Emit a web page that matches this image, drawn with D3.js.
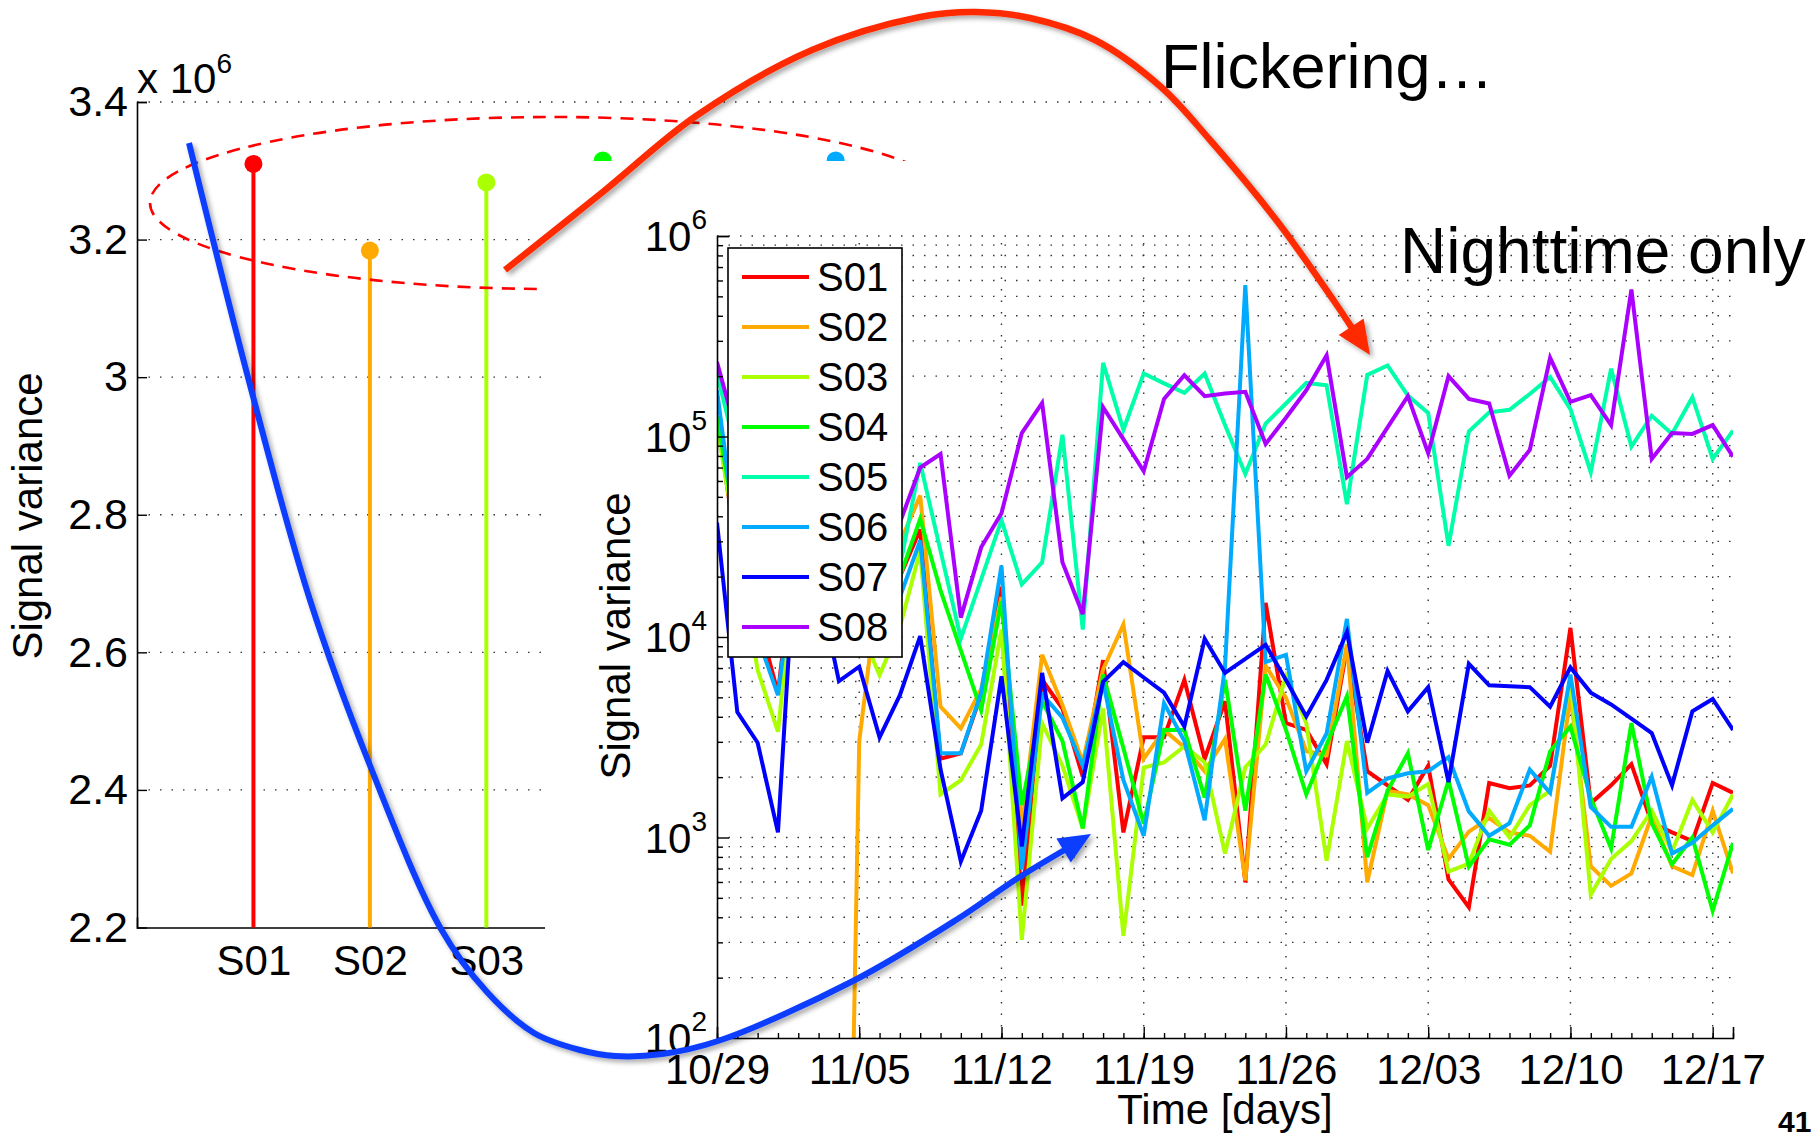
<!DOCTYPE html>
<html>
<head>
<meta charset="utf-8">
<script src="https://cdn.jsdelivr.net/npm/d3@7"></script>
<style>
  body { margin: 0; background: #fff; }
  svg text { font-family: "Liberation Sans", Arial, Helvetica, sans-serif; fill: #000; }
</style>
</head>
<body>
<svg id="slide" width="1820" height="1135"></svg>
<script>
// ---- left plot: total signal variance per sensor (x 10^6) ----
var sensors = ["S01", "S02", "S03", "S04", "S05", "S06", "S07", "S08"];
var totalVar = [3.310, 3.184, 3.283, 3.315, 3.300, 3.315, 3.290, 3.300];
var leftTicks = [2.2, 2.4, 2.6, 2.8, 3.0, 3.2, 3.4];
var colors = ["#ff0000", "#ffaa00", "#aaff00", "#00ff00", "#00ffaa", "#00aaff", "#0000ff", "#aa00ff"];

// ---- right plot: nightly signal variance, one value per night ----
var firstNight = new Date(2012, 9, 29);
var lastNight = new Date(2012, 11, 18);
var nights = d3.timeDay.range(firstNight, d3.timeDay.offset(lastNight, 1));
var weekTicks = ["10/29", "11/05", "11/12", "11/19", "11/26", "12/03", "12/10", "12/17"];
var logTicks = [1e2, 1e3, 1e4, 1e5, 1e6];

var s01 = [126000,25100,12600,5250,39800,15800,12600,14100,11200,20000,34400,2470,2630,5180,17800,457,6110,4400,2010,7660,1060,3160,3160,6110,2470,4780,598,14800,3720,3440,2320,8830,2140,1820,1540,2280,617,449,1870,1760,1820,2280,11100,1480,1820,2320,1180,1060,960,1870,1670];
var s02 = [null,null,null,null,null,null,0.01,3020,20000,29500,50700,4490,3500,5500,15800,1120,8150,4580,2370,6900,11550,2470,3440,2820,2140,3100,611,7190,4970,2690,2570,9200,598,1710,1640,1450,782,1070,1250,1060,1020,849,5180,719,574,662,1280,719,649,1360,662];
var s03 = [112000,28200,6850,3370,31600,15800,12600,11200,6460,11200,26900,1640,1930,2910,10900,309,3720,2280,1110,4400,323,2230,2370,2850,2370,832,2240,2910,6370,3720,766,3030,1110,1640,1600,1850,676,741,1360,1000,1450,1710,6110,518,782,960,1360,849,1540,1060,1640];
var s04 = [126000,31600,15800,10000,31600,20000,15800,20000,15800,20000,38800,17100,8570,4310,15100,1450,4790,3030,1110,6500,2790,1170,3440,3440,1580,6110,1360,6500,3440,1640,2910,5070,798,1710,2630,866,1930,716,980,920,1150,2690,3580,1570,883,3720,1180,735,1000,431,940];
var s05 = [206000,79400,50100,39800,63100,39800,50100,39800,31600,22400,73800,26900,9840,19400,38300,18300,23600,102000,10900,233000,108000,206000,184000,165000,206000,114000,65000,116000,146000,185000,180000,46000,203000,226000,160000,131000,28500,106000,132000,136000,163000,198000,137000,66400,218000,89100,127000,103000,157000,77300,107000];
var s06 = [170000,28200,10000,5130,31600,15800,14100,15800,12600,15800,30300,2630,2630,5280,22700,692,5180,3960,2280,5980,1930,1020,4680,3030,1220,7080,569000,7500,8150,2140,3300,12300,1670,1970,2090,2140,2520,1350,1020,1180,2180,1670,6490,1420,1130,1130,2010,832,940,1150,1390];
var s07 = [37200,4220,2970,1060,50100,18200,6030,7110,3160,5130,10100,2190,759,1360,6370,902,6620,1570,1890,5980,7500,6280,5280,3580,9790,6620,7780,9140,6110,4020,6110,10600,2970,6760,4260,5620,1890,7350,5740,5680,5620,4490,7050,5280,4610,3920,3320,1820,4260,4910,3440];
var s08 = [235000,100000,63100,50100,79400,50100,39800,50100,39800,37200,70000,81800,12500,28000,41400,104000,147000,23600,13000,140000,97000,67100,154000,202000,159000,164000,167000,91800,124000,170000,254000,62700,77300,111000,159000,82600,200000,154000,146000,63800,85700,247000,149000,161000,114000,541000,77300,104000,103000,114000,79400];
var series = [s01, s02, s03, s04, s05, s06, s07, s08];

var svg = d3.select("#slide");
var defs = svg.append("defs");

var shadow = defs.append("filter").attr("id", "shadow").attr("x", "-10%").attr("y", "-10%").attr("width", "130%").attr("height", "130%");
shadow.append("feDropShadow").attr("dx", 3).attr("dy", 3).attr("stdDeviation", 2.5).attr("flood-color", "#000").attr("flood-opacity", 0.35);

var dotted = "1.5,10";

// ================= left plot =================
var lx = d3.scaleLinear().domain([0, 9]).range([137, 1185]);
var ly = d3.scaleLinear().domain([2.2, 3.4]).range([927.5, 102]);
var left = svg.append("g");

left.selectAll(".lgrid").data(leftTicks.slice(1)).enter().append("line")
    .attr("x1", lx(0)).attr("x2", lx(9))
    .attr("y1", function(d) { return ly(d); }).attr("y2", function(d) { return ly(d); })
    .attr("stroke", "#333").attr("stroke-width", 1.4).attr("stroke-dasharray", dotted);

var lyAxis = d3.axisLeft(ly).tickValues(leftTicks).tickSize(-10).tickPadding(9)
    .tickFormat(function(d) { return d === 3 ? "3" : d3.format(".1f")(d); });
var gly = left.append("g").attr("transform", "translate(" + lx(0) + ",0)").call(lyAxis);
gly.selectAll("text").attr("font-size", 43);

var lxAxis = d3.axisBottom(lx).tickValues(d3.range(1, 9)).tickFormat(function(d) { return sensors[d - 1]; }).tickSize(-10).tickPadding(18);
var glx = left.append("g").attr("transform", "translate(0," + ly(2.2) + ")").call(lxAxis);
glx.selectAll("text").attr("font-size", 42);
[gly, glx].forEach(function(g) {
    g.select(".domain").attr("stroke", "#000").attr("stroke-width", 1.6);
    g.selectAll(".tick line").attr("stroke", "#000").attr("stroke-width", 1.4);
});
gly.selectAll(".tick").filter(function(d) { return d === 2.2; }).select("line").remove();

left.selectAll(".stem").data(totalVar).enter().append("line")
    .attr("x1", function(d, i) { return lx(i + 1); }).attr("x2", function(d, i) { return lx(i + 1); })
    .attr("y1", ly(2.2)).attr("y2", function(d) { return ly(d); })
    .attr("stroke", function(d, i) { return colors[i]; }).attr("stroke-width", 4);
left.selectAll(".dot").data(totalVar).enter().append("circle")
    .attr("cx", function(d, i) { return lx(i + 1); }).attr("cy", function(d) { return ly(d); })
    .attr("r", 9).attr("fill", function(d, i) { return colors[i]; });

var mult = left.append("text").attr("x", 137).attr("y", 93).attr("font-size", 42);
mult.append("tspan").text("x 10");
mult.append("tspan").attr("font-size", 28).attr("dy", -20).text("6");

left.append("text").attr("transform", "translate(42,516) rotate(-90)")
    .attr("text-anchor", "middle").attr("font-size", 42).text("Signal variance");

left.append("ellipse").attr("cx", 552).attr("cy", 203).attr("rx", 402).attr("ry", 86)
    .attr("fill", "none").attr("stroke", "#ff0000").attr("stroke-width", 2.6).attr("stroke-dasharray", "13,9");

// white panel of the second figure, pasted over the first
svg.append("rect").attr("x", 545).attr("y", 161).attr("width", 1275).attr("height", 974).attr("fill", "#fff");

// ================= right plot =================
var rx = d3.scaleTime().domain([firstNight, lastNight]).range([717, 1733]);
var ry = d3.scaleLog().domain([1e2, 1e6]).range([1038, 236]);
var right = svg.append("g");

defs.append("clipPath").attr("id", "plotclip").append("rect")
    .attr("x", 717).attr("y", 236).attr("width", 1016).attr("height", 802);

var weekDates = weekTicks.map(function(t) { return d3.timeParse("%Y/%m/%d")("2012/" + t); });
var minorY = [];
[1e2, 1e3, 1e4, 1e5].forEach(function(dec) {
    for (var k = 2; k <= 9; k++) minorY.push(k * dec);
});

right.selectAll(".hgrid").data(minorY.concat(logTicks.slice(1))).enter().append("line")
    .attr("x1", 717).attr("x2", 1733)
    .attr("y1", function(d) { return ry(d); }).attr("y2", function(d) { return ry(d); })
    .attr("stroke", "#333").attr("stroke-width", 1.4).attr("stroke-dasharray", dotted);
right.selectAll(".vgrid").data(weekDates.slice(1)).enter().append("line")
    .attr("y1", 1038).attr("y2", 236)
    .attr("x1", function(d) { return rx(d); }).attr("x2", function(d) { return rx(d); })
    .attr("stroke", "#333").attr("stroke-width", 1.4).attr("stroke-dasharray", dotted);

var lineGen = d3.line()
    .defined(function(d) { return d != null; })
    .x(function(d, i) { return rx(nights[i]); })
    .y(function(d) { return ry(d); });

right.append("g").attr("clip-path", "url(#plotclip)").selectAll("path").data(series).enter().append("path")
    .attr("d", function(d) { return lineGen(d); })
    .attr("fill", "none")
    .attr("stroke", function(d, i) { return colors[i]; })
    .attr("stroke-width", 4);

var ryAxis = d3.axisLeft(ry).tickValues(logTicks).tickFormat("").tickSize(-12);
var gry = right.append("g").attr("transform", "translate(717,0)").call(ryAxis);
gry.selectAll(".tick").filter(function(d) { return d === 1e2; }).select("line").remove();
right.append("g").attr("transform", "translate(717,0)")
    .call(d3.axisLeft(ry).tickValues(minorY).tickFormat("").tickSize(-6))
    .select(".domain").remove();

var rxAxis = d3.axisBottom(rx).tickValues(weekDates).tickFormat(d3.timeFormat("%m/%d")).tickSize(-11).tickPadding(16);
var grx = right.append("g").attr("transform", "translate(0,1038)").call(rxAxis);
grx.selectAll("text").attr("font-size", 42);
grx.selectAll(".tick").filter(function(d, i) { return i === 0; }).select("line").remove();
right.append("g").attr("transform", "translate(0,1038)")
    .call(d3.axisBottom(rx).tickValues(nights).tickFormat("").tickSize(-5))
    .select(".domain").remove();

right.selectAll(".domain").attr("stroke", "#000").attr("stroke-width", 1.6);
right.selectAll(".tick line").attr("stroke", "#000").attr("stroke-width", 1.4);

var ylab = right.selectAll(".ylab").data(logTicks).enter().append("text")
    .attr("x", 707).attr("y", function(d) { return ry(d); }).attr("dy", "0.36em")
    .attr("text-anchor", "end").attr("font-size", 42);
ylab.append("tspan").text("10");
ylab.append("tspan").attr("font-size", 28).attr("dy", -22).text(function(d) { return Math.round(Math.log10(d)); });

right.append("text").attr("x", 1225).attr("y", 1124).attr("text-anchor", "middle").attr("font-size", 42).text("Time [days]");
right.append("text").attr("transform", "translate(630,636) rotate(-90)")
    .attr("text-anchor", "middle").attr("font-size", 42).text("Signal variance");

// legend
var legend = right.append("g");
legend.append("rect").attr("x", 728).attr("y", 248).attr("width", 174).attr("height", 409)
    .attr("fill", "#fff").attr("stroke", "#000").attr("stroke-width", 1.6);
var item = legend.selectAll(".item").data(sensors).enter().append("g")
    .attr("transform", function(d, i) { return "translate(0," + (277 + i * 50) + ")"; });
item.append("line").attr("x1", 742).attr("x2", 809)
    .attr("stroke", function(d, i) { return colors[i]; }).attr("stroke-width", 4);
item.append("text").attr("x", 817).attr("dy", "0.36em").attr("font-size", 40).text(function(d) { return d; });

// ================= slide annotations =================
svg.append("text").attr("x", 1161).attr("y", 88).attr("font-size", 63).text("Flickering\u2026");
svg.append("text").attr("x", 1400).attr("y", 273).attr("font-size", 64).text("Nighttime only");
svg.append("text").attr("x", 1778).attr("y", 1132).attr("font-size", 30).attr("font-weight", "bold").text("41");

function arrow(points, color, width, headLen, headHalf) {
    var g = svg.append("g").attr("filter", "url(#shadow)");
    var p = points, n = p.length;
    var dx = p[n - 1][0] - p[n - 2][0], dy = p[n - 1][1] - p[n - 2][1];
    var len = Math.sqrt(dx * dx + dy * dy), ux = dx / len, uy = dy / len;
    var tip = p[n - 1];
    var base = [tip[0] - ux * headLen, tip[1] - uy * headLen];
    var shaft = p.slice(0, n - 1).concat([[base[0] + ux * 2, base[1] + uy * 2]]);
    g.append("path").attr("d", d3.line().curve(d3.curveCatmullRom.alpha(0.5))(shaft))
        .attr("fill", "none").attr("stroke", color).attr("stroke-width", width);
    g.append("path").attr("d", "M" + tip + "L" + [base[0] - uy * headHalf, base[1] + ux * headHalf] +
        "L" + [base[0] + uy * headHalf, base[1] - ux * headHalf] + "Z").attr("fill", color);
}

arrow([[505, 270], [604, 191], [696, 116], [812, 50], [920, 17], [975, 12], [1030, 18], [1095, 40], [1161, 87], [1210, 140], [1277, 221], [1334, 301], [1370, 355]],
      "#ff2a00", 6.5, 34, 15);
arrow([[189, 143], [250, 385], [310, 600], [369, 763], [441, 929], [487, 992], [534, 1033], [580, 1050], [615, 1056], [662, 1054], [718, 1041], [853, 981], [956, 920], [1018, 878], [1091, 834]],
      "#0a3cff", 6, 32, 14);
</script>
</body>
</html>
